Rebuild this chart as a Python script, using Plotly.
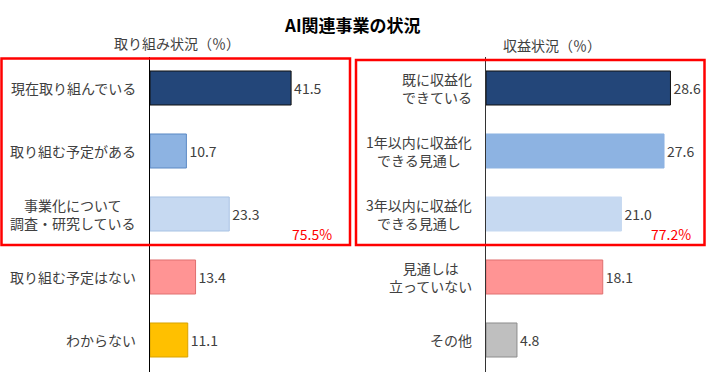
import plotly.graph_objects as go

W, H = 706, 378

title_text = "AI関連事業の状況"
left_title = "取り組み状況（％）"
right_title = "収益状況（％）"

left_categories = ["現在取り組んでいる", "取り組む予定がある", "事業化について<br>調査・研究している",
                   "取り組む予定はない", "わからない"]
left_values = [41.5, 10.7, 23.3, 13.4, 11.1]
left_total = "75.5%"

right_categories = ["既に収益化<br>できている", "1年以内に収益化<br>できる見通し", "3年以内に収益化<br>できる見通し",
                    "見通しは<br>立っていない", "その他"]
right_values = [28.6, 27.6, 21.0, 18.1, 4.8]
right_total = "77.2%"

fill_colors = ["#234679", "#8DB3E2", "#C6D9F1", "#FF9494", "#FFC000"]
line_colors = ["#111111", "#5A88C4", "#A8C3E4", "#E07070", "#D9A300"]
right_fill = ["#234679", "#8DB3E2", "#C6D9F1", "#FF9494", "#BFBFBF"]
right_line = ["#111111", "#8DB3E2", "#C6D9F1", "#E07070", "#8C8C8C"]

FONT = "Noto Sans CJK JP"
TXT = "#404040"


def px_x(p):
    return p / W


def px_y(p):
    return 1 - p / H


fig = go.Figure()

fig.add_trace(go.Bar(
    x=left_values, y=left_categories, orientation="h", width=0.54,
    marker=dict(color=fill_colors, line=dict(color=line_colors, width=1)),
    text=[f"{v:.1f}" for v in left_values], textposition="outside",
    textfont=dict(size=14, color=TXT, family=FONT), cliponaxis=False,
    xaxis="x", yaxis="y", showlegend=False, hoverinfo="skip",
))
fig.add_trace(go.Bar(
    x=right_values, y=right_categories, orientation="h", width=0.54,
    marker=dict(color=right_fill, line=dict(color=right_line, width=1)),
    text=[f"{v:.1f}" for v in right_values], textposition="outside",
    textfont=dict(size=14, color=TXT, family=FONT), cliponaxis=False,
    xaxis="x2", yaxis="y2", showlegend=False, hoverinfo="skip",
))

# axis geometry
l0, lpx = 150, 3.4
r0, rpx = 486, 6.45
lmax, rmax = 50, 32
ydom = [px_y(371.5), px_y(56.5)]

yax = dict(type="category", range=[4.5, -0.5], showline=True, linecolor="#000000", linewidth=1,
           ticks="", showticklabels=False, showgrid=False, zeroline=False, domain=ydom, fixedrange=True)

annotations = []
for cat in left_categories:
    annotations.append(dict(x=0, y=cat, xref="x", yref="y", text=cat, showarrow=False,
                            xanchor="right", yanchor="middle", align="center", xshift=-12,
                            font=dict(size=14, color=TXT, family=FONT)))
for cat in right_categories:
    annotations.append(dict(x=0, y=cat, xref="x2", yref="y2", text=cat, showarrow=False,
                            xanchor="right", yanchor="middle", align="center", xshift=-12,
                            font=dict(size=14, color=TXT, family=FONT)))


def paper_text(x, y, text, size, color):
    return dict(x=px_x(x), y=px_y(y), xref="paper", yref="paper", text=text, showarrow=False,
                xanchor="center", yanchor="middle", font=dict(size=size, color=color, family=FONT))


annotations += [
    paper_text(352, 24, f"<b>{title_text}</b>", 17, "#000000"),
    paper_text(177, 43, left_title, 14, TXT),
    paper_text(552, 45, right_title, 14, TXT),
    paper_text(312, 234, left_total, 14, "#FF0000"),
    paper_text(671, 234, right_total, 14, "#FF0000"),
]

shapes = [
    dict(type="rect", xref="paper", yref="paper", x0=px_x(1.5), x1=px_x(350), y0=px_y(245), y1=px_y(58.5),
         line=dict(color="#FF0000", width=2.5)),
    dict(type="rect", xref="paper", yref="paper", x0=px_x(356), x1=px_x(704.5), y0=px_y(245), y1=px_y(60),
         line=dict(color="#FF0000", width=2.5)),
]

fig.update_layout(
    width=W, height=H,
    margin=dict(l=0, r=0, t=0, b=0),
    paper_bgcolor="#FFFFFF", plot_bgcolor="rgba(0,0,0,0)",
    font=dict(family=FONT),
    xaxis=dict(domain=[px_x(l0), px_x(l0 + lmax * lpx)], range=[0, lmax], visible=False, fixedrange=True),
    xaxis2=dict(domain=[px_x(r0), px_x(r0 + rmax * rpx)], range=[0, rmax], visible=False, fixedrange=True),
    yaxis=dict(yax, anchor="x"),
    yaxis2=dict(yax, anchor="x2", linecolor="#333333"),
    annotations=annotations,
    shapes=shapes,
)

fig.write_html("out.html", config={"displayModeBar": False},
               post_script="document.body.style.margin='0';document.body.style.overflow='hidden';")
